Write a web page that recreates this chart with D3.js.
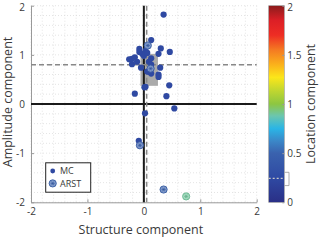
<!DOCTYPE html>
<html><head><meta charset="utf-8">
<script src="https://cdn.jsdelivr.net/npm/d3@7"></script>
<style>body{margin:0;background:#fff}svg{display:block}text{font-family:"Open Sans",sans-serif;fill:#3a3a3a}</style>
</head><body>
<script>
// data
const mcX = [0.35,0.13,0.30,0.46,-0.08,-0.08,0.03,-0.03,0.26,0.00,-0.26,-0.21,-0.16,-0.21,-0.12,0.09,0.13,-0.05,0.29,0.26,0.26,0.10,0.13,0.06,0.01,0.03,-0.16,0.45,0.40,0.54,0.02,-0.09,0.13,0.06];
const mcY = [1.82,1.30,1.13,1.06,1.12,1.06,1.08,1.02,1.02,0.98,0.91,0.92,0.95,0.81,0.86,0.86,0.93,0.74,0.74,0.60,0.55,0.65,0.62,0.66,0.34,0.35,0.21,0.38,0.16,-0.09,-0.19,-0.75,0.80,1.04];
const arstX = [0.07,0.12,-0.07,0.35,0.75];
const arstY = [1.19,0.72,-0.84,-1.74,-1.88];
const arstLoc = [0.5,0.45,0.45,0.5,0.9];
const mcLoc = 0.24;
const xTicks = [-2,-1,0,1,2];
const yTicks = [-2,-1,0,1,2];
const cbTicks = [0,0.5,1,1.5,2];
const meanStructure = 0.05, meanAmplitude = 0.8;
const boxX = [-0.06,0.25], boxY = [0.37,1.02];
const locBand = [0.17,0.305], locMean = 0.244;
const cmapStops = [0,0.25,0.5,0.62,0.75,0.88,1.0,1.15,1.27,1.4,1.55,1.7,1.85,2.0];
const cmapColors = ["#2a2f86","#2f4aa3","#3a62ae","#3b86c7","#2ab5e6","#6cc6ae","#8dc641","#c6d82e","#fbe61a","#fbb21b","#f47a22","#ee2d24","#dc1f26","#8b1c1c"];

const W=320,H=241;
const svg=d3.select("body").append("svg").attr("width",W).attr("height",H);
const x=d3.scaleLinear().domain([-2,2]).range([31,256.7]);
const y=d3.scaleLinear().domain([-2,2]).range([202.3,5.7]);
const cmap=d3.scaleLinear().domain(cmapStops).range(cmapColors);

// grid
const minor=d3.range(-2,2.001,0.2);
svg.append("g").selectAll("line.gx").data(minor).join("line")
 .attr("x1",d=>x(d)).attr("x2",d=>x(d)).attr("y1",y(2)).attr("y2",y(-2))
 .attr("stroke","#d8d8d8").attr("stroke-width",0.7).attr("stroke-dasharray","1,2");
svg.append("g").selectAll("line.gy").data(minor).join("line")
 .attr("y1",d=>y(d)).attr("y2",d=>y(d)).attr("x1",x(-2)).attr("x2",x(2))
 .attr("stroke","#d8d8d8").attr("stroke-width",0.7).attr("stroke-dasharray","1,2");

// axes
const xa=svg.append("g").attr("transform",`translate(0,${y(-2)})`)
 .call(d3.axisBottom(x).tickValues(xTicks).tickFormat(d3.format("d")).tickSizeInner(-3).tickSizeOuter(0).tickPadding(6));
const ya=svg.append("g").attr("transform",`translate(${x(-2)},0)`)
 .call(d3.axisLeft(y).tickValues(yTicks).tickFormat(d3.format("d")).tickSizeInner(-3).tickSizeOuter(0).tickPadding(6));
[xa,ya].forEach(a=>{a.select(".domain").attr("stroke","#999");a.selectAll(".tick line").attr("stroke","#999");
 a.selectAll("text").attr("font-size",10).attr("fill","#3a3a3a").attr("font-family","Open Sans");});
xa.selectAll(".tick text").text(d=>d<0?"-"+Math.abs(d):d);
ya.selectAll(".tick text").text(d=>d<0?"-"+Math.abs(d):d);
ya.selectAll(".tick").filter(d=>d===2).select("text").attr("dy","0.5em");

// box
svg.append("rect").attr("x",x(boxX[0])).attr("y",y(boxY[1]))
 .attr("width",x(boxX[1])-x(boxX[0])).attr("height",y(boxY[0])-y(boxY[1])).attr("fill","#aaaaaa");

// zero lines
svg.append("line").attr("x1",x(0)).attr("x2",x(0)).attr("y1",y(2)).attr("y2",y(-2)).attr("stroke","#1a1a1a").attr("stroke-width",2);
svg.append("line").attr("x1",x(-2)).attr("x2",x(2)).attr("y1",y(0)).attr("y2",y(0)).attr("stroke","#1a1a1a").attr("stroke-width",2);
// dashed means
svg.append("line").attr("x1",x(meanStructure)).attr("x2",x(meanStructure)).attr("y1",y(2)).attr("y2",y(-2)).attr("stroke","#888").attr("stroke-width",1.5).attr("stroke-dasharray","5,3");
svg.append("line").attr("x1",x(-2)).attr("x2",x(2)).attr("y1",y(meanAmplitude)).attr("y2",y(meanAmplitude)).attr("stroke","#888").attr("stroke-width",1.5).attr("stroke-dasharray","5,3");

// markers
function arst(g,cx,cy,c){
  const col=d3.color(c);
  const light=d3.interpolateRgb(c,"#ffffff")(0.35);
  g.append("circle").attr("cx",cx).attr("cy",cy).attr("r",3.6).attr("fill",light).attr("stroke",col.darker(0.2)).attr("stroke-width",0.9);
  [0,60,120].forEach(a=>{const r=a*Math.PI/180;
    g.append("line").attr("x1",cx-2*Math.cos(r)).attr("x2",cx+2*Math.cos(r)).attr("y1",cy-2*Math.sin(r)).attr("y2",cy+2*Math.sin(r))
     .attr("stroke",col.darker(0.3)).attr("stroke-width",0.7);});
}
const pts=svg.append("g");
pts.selectAll("circle.mc").data(mcX.map((v,i)=>[v,mcY[i]])).join("circle")
 .attr("cx",d=>x(d[0])).attr("cy",d=>y(d[1])).attr("r",3.1).attr("fill",cmap(mcLoc));
arstX.forEach((v,i)=>arst(pts,x(v),y(arstY[i]),cmap(arstLoc[i])));

// legend
const lg=svg.append("g");
lg.append("rect").attr("x",45.7).attr("y",162.8).attr("width",45).attr("height",29.4).attr("fill","#fff").attr("stroke","#222").attr("stroke-width",1);
lg.append("circle").attr("cx",52.7).attr("cy",171).attr("r",2.4).attr("fill",cmap(mcLoc));
arst(lg,52.7,183.4,cmap(0.5));
lg.append("text").attr("x",60).attr("y",174.2).attr("font-size",9).text("MC");
lg.append("text").attr("x",60).attr("y",186.6).attr("font-size",9).text("ARST");

// labels
svg.append("text").attr("x",x(0)-3).attr("y",234).attr("text-anchor","middle").attr("font-size",12.5).text("Structure component");
svg.append("text").attr("transform",`translate(12,${y(0)-2}) rotate(-90)`).attr("text-anchor","middle").attr("font-size",12.5).text("Amplitude component");

// colorbar
const cb=d3.scaleLinear().domain([0,2]).range([202.3,5.7]);
const defs=svg.append("defs");
const grad=defs.append("linearGradient").attr("id","jet").attr("x1",0).attr("x2",0).attr("y1",1).attr("y2",0);
grad.selectAll("stop").data(cmapStops).join("stop").attr("offset",d=>d/2).attr("stop-color",d=>cmap(d));
svg.append("rect").attr("x",268.7).attr("y",cb(2)).attr("width",15.6).attr("height",cb(0)-cb(2)).attr("fill","url(#jet)").attr("stroke","#999").attr("stroke-width",0.6);
const ca=svg.append("g").attr("transform","translate(284.3,0)")
 .call(d3.axisRight(cb).tickValues(cbTicks).tickFormat(d=>d).tickSizeInner(-2).tickSizeOuter(0).tickPadding(3));
ca.select(".domain").remove();
ca.selectAll(".tick line").attr("stroke","#999");
ca.selectAll("text").attr("font-size",10).attr("fill","#3a3a3a").attr("font-family","Open Sans");
ca.selectAll(".tick").filter(d=>d===2).select("text").attr("dy","0.5em");
svg.append("line").attr("x1",268.7).attr("x2",284.3).attr("y1",cb(locMean)).attr("y2",cb(locMean)).attr("stroke","#c8c8c8").attr("stroke-width",1.2).attr("stroke-dasharray","2,2");
svg.append("path").attr("d",`M284.3,${cb(locBand[1])}H289V${cb(locBand[0])}H284.3`).attr("fill","none").attr("stroke","#999").attr("stroke-width",0.8);
svg.append("text").attr("transform",`translate(315,${cb(1)}) rotate(-90)`).attr("text-anchor","middle").attr("font-size",12.5).text("Location component");
</script>
</body></html>
